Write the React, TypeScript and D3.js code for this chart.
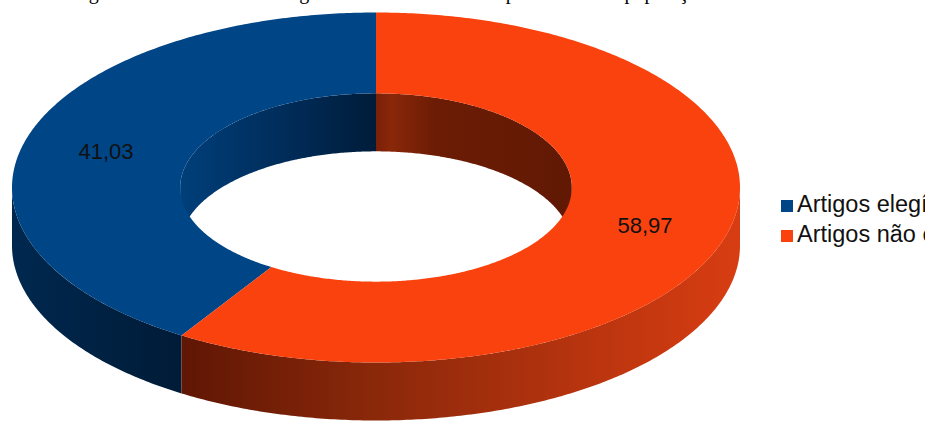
import React from 'react';
import * as d3 from 'd3';

const categories = ['Artigos elegíveis', 'Artigos não elegíveis'];
const values = [41.03, 58.97];
const valueLabels = ['41,03', '58,97'];
const topColors = ['#004586', '#f9420e'];
const titleText = 'Figura 1 – Percentual de artigos incluídos e excluídos pertencentes à população';

const W = 925;
const H = 421;
const cx = 376;
const cy = 187.5;
const Rx = 364;
const Ry = 175;
const innerK = 0.538;
const depth = 58;
const TAU = Math.PI * 2;

type Pt = [number, number];

function pt(theta: number, k: number, dy: number): Pt {
  return [cx + Rx * k * Math.sin(theta), cy - Ry * k * Math.cos(theta) + dy];
}

function arcPts(a0: number, a1: number, k: number, dy: number): Pt[] {
  const n = Math.max(8, Math.ceil(Math.abs(a1 - a0) / 0.01));
  const s = d3.scaleLinear().domain([0, n]).range([a0, a1]);
  return d3.range(n + 1).map((i) => pt(s(i), k, dy));
}

const line = d3.line<Pt>().x((d) => d[0]).y((d) => d[1]);

function intersectAll(lo: number, hi: number, a: number, b: number): [number, number][] {
  const out: [number, number][] = [];
  [-2, -1, 0, 1, 2].forEach((k) => {
    const s = Math.max(lo, a + k * TAU);
    const e = Math.min(hi, b + k * TAU);
    if (e - s > 1e-6) out.push([s, e]);
  });
  return out;
}

export default function App() {
  const pie = d3
    .pie<number>()
    .sort(null)
    .startAngle(0)
    .endAngle(-TAU)
    .value((d) => d);
  const arcs = pie(values).map((a, i) => ({
    i,
    lo: Math.min(a.startAngle, a.endAngle),
    hi: Math.max(a.startAngle, a.endAngle),
  }));

  const tops = arcs.map(({ i, lo, hi }) => {
    const pts = [...arcPts(lo, hi, 1, 0), ...arcPts(hi, lo, innerK, 0)];
    return { i, d: line(pts) + 'Z' };
  });

  const outerWalls: { i: number; d: string }[] = [];
  const innerWalls: { i: number; d: string }[] = [];
  arcs.forEach(({ i, lo, hi }) => {
    intersectAll(lo, hi, Math.PI / 2, (3 * Math.PI) / 2).forEach((f) => {
      const pts = [...arcPts(f[0], f[1], 1, 0), ...arcPts(f[1], f[0], 1, depth)];
      outerWalls.push({ i, d: line(pts) + 'Z' });
    });
    intersectAll(lo, hi, -Math.PI / 2, Math.PI / 2).forEach((g) => {
      const pts = [...arcPts(g[0], g[1], innerK, 0), ...arcPts(g[1], g[0], innerK, depth)];
      innerWalls.push({ i, d: line(pts) + 'Z' });
    });
  });

  const labelPos = [
    [106, 151],
    [645, 225],
  ];

  return (
    <svg
      width={W}
      height={H}
      style={{ position: 'absolute', left: 0, top: 0, background: '#fff' }}
      fontFamily="'Liberation Sans', Arial, sans-serif"
    >
      <defs>
        <linearGradient id="ow0" gradientUnits="userSpaceOnUse" x1={cx - Rx} x2={cx - Rx * 0.52} y1={0} y2={0}>
          <stop offset="0" stopColor="#00284f" />
          <stop offset="1" stopColor="#001b36" />
        </linearGradient>
        <linearGradient id="ow1" gradientUnits="userSpaceOnUse" x1={cx - Rx * 0.55} x2={cx + Rx} y1={0} y2={0}>
          <stop offset="0" stopColor="#5e1604" />
          <stop offset="0.35" stopColor="#8a280a" />
          <stop offset="0.75" stopColor="#bb350f" />
          <stop offset="1" stopColor="#d83d12" />
        </linearGradient>
        <linearGradient id="iw0" gradientUnits="userSpaceOnUse" x1={cx - Rx * innerK} x2={cx} y1={0} y2={0}>
          <stop offset="0" stopColor="#003f7a" />
          <stop offset="0.6" stopColor="#002a55" />
          <stop offset="1" stopColor="#001c3a" />
        </linearGradient>
        <linearGradient id="iw1" gradientUnits="userSpaceOnUse" x1={cx} x2={cx + Rx * innerK} y1={0} y2={0}>
          <stop offset="0" stopColor="#7a2008" />
          <stop offset="0.08" stopColor="#8a2709" />
          <stop offset="0.3" stopColor="#6c1c05" />
          <stop offset="1" stopColor="#611904" />
        </linearGradient>
      </defs>

      <text
        x={72}
        y={-1}
        fontFamily="'Liberation Serif', 'Times New Roman', serif"
        fontSize={20}
        fill="#000"
      >
        {titleText}
      </text>

      {outerWalls.map((w, k) => (
        <path key={'ow' + k} d={w.d} fill={`url(#ow${w.i})`} />
      ))}
      {innerWalls.map((w, k) => (
        <path key={'iw' + k} d={w.d} fill={`url(#iw${w.i})`} />
      ))}
      {tops.map((t) => (
        <path key={'t' + t.i} d={t.d} fill={topColors[t.i]} />
      ))}

      {valueLabels.map((l, i) => (
        <text
          key={'l' + i}
          x={labelPos[i][0]}
          y={labelPos[i][1]}
          textAnchor="middle"
          dominantBaseline="central"
          fontSize={22}
          fill="#111"
        >
          {l}
        </text>
      ))}

      {categories.map((c, i) => (
        <g key={'lg' + i} transform={`translate(781,${200 + i * 30})`}>
          <rect x={0} y={0} width={12} height={12} fill={topColors[i]} />
          <text x={16} y={12} fontSize={23.5} fill="#111">
            {c}
          </text>
        </g>
      ))}
    </svg>
  );
}
